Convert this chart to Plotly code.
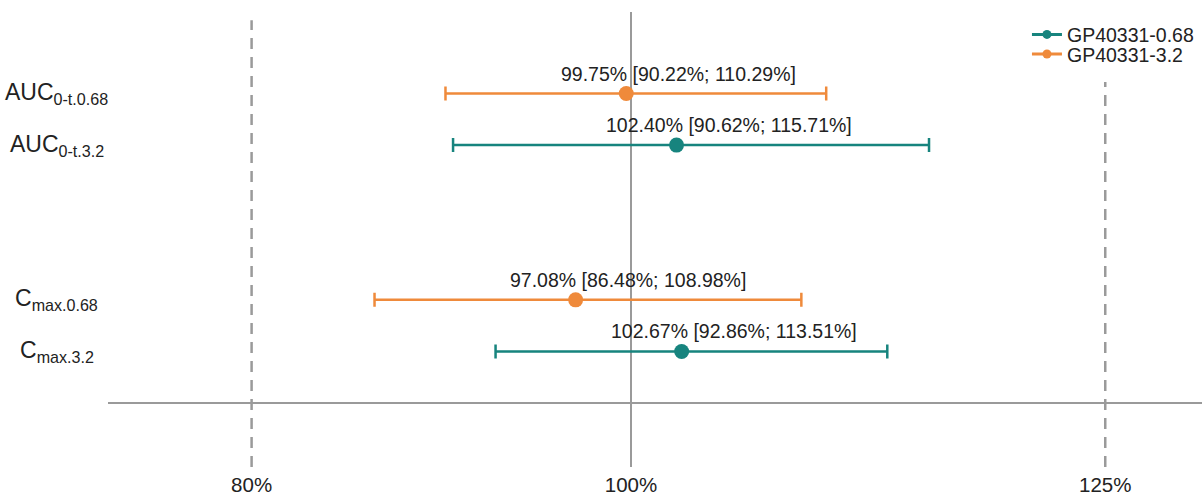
import plotly.graph_objects as go

# Rows (top to bottom) and their vertical positions; the gap separates AUC from Cmax
row_labels = ["AUC<sub>0-t.0.68</sub>", "AUC<sub>0-t.3.2</sub>",
              "C<sub>max.0.68</sub>", "C<sub>max.3.2</sub>"]
row_pos = [6, 5, 2, 1]

# Geometric mean ratios (%) with 90% CI
series_names = ["GP40331-0.68", "GP40331-3.2"]
series_colors = ["#17847e", "#ef8a3b"]
series_rows = [[1, 3], [0, 2]]           # indices into row_labels
series_est = [[102.40, 102.67], [99.75, 97.08]]
series_lo = [[90.62, 92.86], [90.22, 86.48]]
series_hi = [[115.71, 113.51], [110.29, 108.98]]

ref_lines = [80, 100, 125]
tick_text = ["80%", "100%", "125%"]

FONT = "Liberation Sans, Arial, Helvetica, sans-serif"
TXT = "#222222"
GRAY = "#9a9a9a"

fig = go.Figure()

legend_ids = ["legend", "legend2"]
for name, col, rows, est, lo, hi, lg in zip(series_names, series_colors, series_rows,
                                            series_est, series_lo, series_hi, legend_ids):
    ys = [row_pos[r] for r in rows]
    # point estimates with asymmetric CI whiskers
    fig.add_trace(go.Scatter(
        x=est, y=ys, name=name, mode="markers", showlegend=False,
        marker=dict(color=col, size=15),
        error_x=dict(type="data", symmetric=False,
                     array=[h - e for h, e in zip(hi, est)],
                     arrayminus=[e - l for e, l in zip(est, lo)],
                     color=col, thickness=2.5, width=7),
    ))
    # legend key: small dot on a line
    fig.add_trace(go.Scatter(
        x=[None], y=[None], name=name, mode="lines+markers", legend=lg,
        line=dict(color=col, width=3), marker=dict(color=col, size=9),
    ))
    for e, l, h, y in zip(est, lo, hi, ys):
        fig.add_annotation(x=e, y=y, xref="x", yref="y",
                           text=f"{e:.2f}% [{l:.2f}%; {h:.2f}%]",
                           showarrow=False, xanchor="center", yanchor="middle",
                           xshift=52, yshift=20,
                           font=dict(family=FONT, size=19.5, color=TXT))

# Reference lines: solid at 100%, dashed at the 80%-125% bounds
fig.add_shape(type="line", xref="x", yref="paper", x0=100, x1=100, y0=0, y1=1,
              line=dict(color=GRAY, width=2), layer="below")
fig.add_shape(type="line", xref="x", yref="paper", x0=80, x1=80, y0=0, y1=0.982,
              line=dict(color=GRAY, width=2.5, dash="11px,8px"), layer="below")
fig.add_shape(type="line", xref="x", yref="paper", x0=125, x1=125, y0=0, y1=0.846,
              line=dict(color=GRAY, width=2.5, dash="11px,8px"), layer="below")
# Horizontal baseline
fig.add_shape(type="line", xref="paper", yref="y", x0=0, x1=1, y0=0, y1=0,
              line=dict(color=GRAY, width=2), layer="below")

# Row labels
for lab, y in zip(row_labels, row_pos):
    fig.add_annotation(x=-0.047, y=y, xref="paper", yref="y", text=lab,
                       showarrow=False, xanchor="center", yanchor="middle",
                       font=dict(family=FONT, size=23, color=TXT))

legend_style = dict(x=0.840, xanchor="left", yanchor="middle",
                    font=dict(family=FONT, size=19.5, color=TXT),
                    bgcolor="rgba(0,0,0,0)", itemwidth=30)

fig.update_layout(
    width=1202, height=495,
    margin=dict(l=108, r=0, t=12, b=28),
    paper_bgcolor="white", plot_bgcolor="white",
    font=dict(family=FONT, size=19, color=TXT),
    showlegend=True,
    legend=dict(y=0.950, **legend_style),
    legend2=dict(y=0.907, **legend_style),
    xaxis=dict(range=[72.43, 130.1], tickvals=ref_lines, ticktext=tick_text,
               showgrid=False, zeroline=False, showline=False, ticks="",
               tickfont=dict(family=FONT, size=20.5, color=TXT),
               ticklabelstandoff=3, automargin=False, fixedrange=True),
    yaxis=dict(range=[-1.24, 7.58], showticklabels=False, showgrid=False,
               zeroline=False, showline=False, ticks="", automargin=False,
               fixedrange=True),
)

fig.write_html("out.html")
